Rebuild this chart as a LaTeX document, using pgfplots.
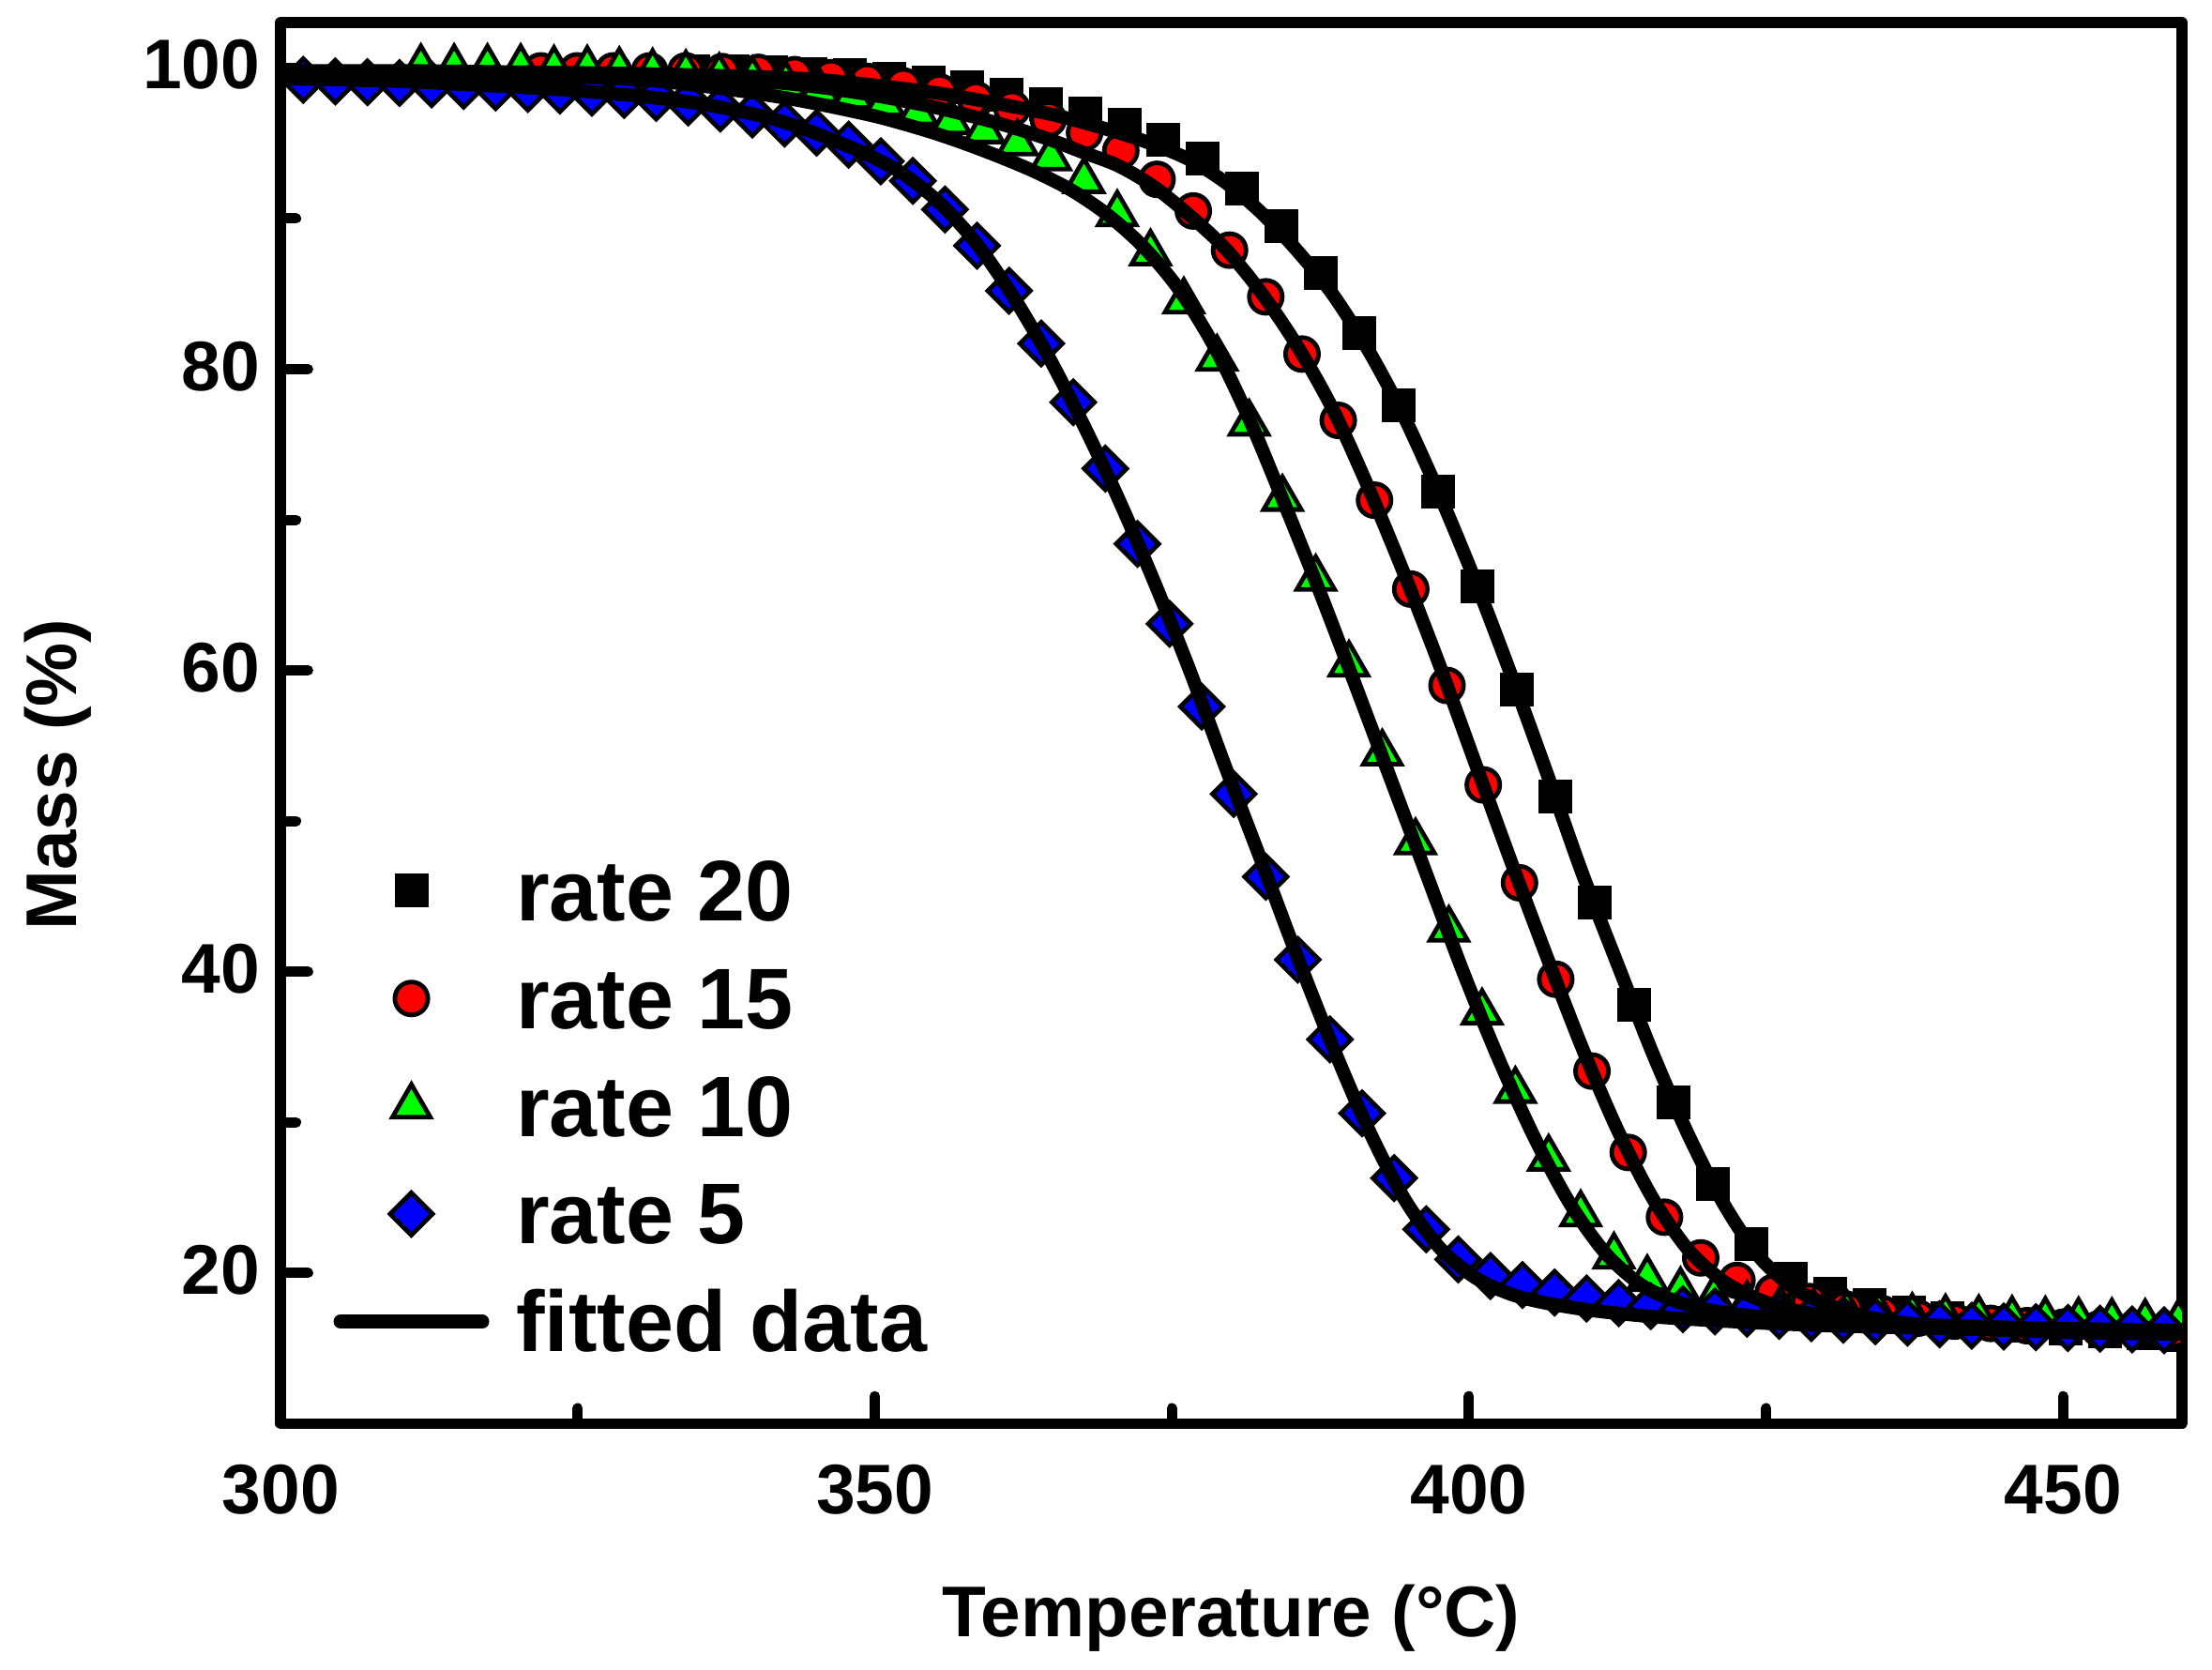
\documentclass[border=0pt]{standalone}
\usepackage{fontspec}
\setmainfont{Liberation Sans}
\usepackage{pgfplots}
\pgfplotsset{compat=1.18}
\begin{document}
\begin{tikzpicture}
\begin{axis}[
  scale only axis, width=506.7bp, height=373.3bp,
  xmin=300, xmax=460, ymin=10, ymax=103,
  xtick={300,350,400,450}, minor xtick={325,375,425},
  ytick={20,40,60,80,100}, minor ytick={30,50,70,90},
  tick align=inside, xtick pos=bottom, ytick pos=left,
  major tick length=7.3bp, minor tick length=4.1bp,
  tick style={line width=2.75bp, black, line cap=round},
  axis line style={line width=2.9bp, line join=round},
  /pgf/number format/assume math mode=true,
  tick label style={font=\bfseries\fontsize{18.8}{22}\selectfont},
  xticklabel style={yshift=-7.4bp},
  yticklabel style={xshift=-2bp, yshift=0.8bp},
  label style={font=\bfseries\fontsize{19.2}{23}\selectfont},
  xlabel={Temperature (°C)},
  ylabel={Mass (\%)},
  xlabel style={at={(axis description cs:0.5,-0.1524)}, anchor=base},
  ylabel style={at={(axis description cs:-0.1074,0.4633)}, anchor=base},
  clip marker paths=true,
  legend cell align=left,
  legend style={draw=none, fill=none, inner sep=0pt, outer sep=0pt,
     at={(axis description cs:0.0278,0.046)}, anchor=south west,
     font=\bfseries\fontsize{23}{27}\selectfont,
     row sep=8.7bp, column sep=5.2bp,
     nodes={inner sep=2bp, text height=16bp, text depth=0bp}},
  legend image code/.code={\draw[mark repeat=2,mark phase=2,#1] plot coordinates {(1.8bp,0bp)(20.75bp,0bp)(39.7bp,0bp)};},
]
% rate 20
\addplot[only marks, mark=square*, mark size=3.9bp, mark options={fill=black, draw=black, line width=1.2bp}] coordinates {
(334.7,99.8)(338.0,99.8)(341.3,99.7)(344.6,99.6)(347.9,99.5)(351.2,99.3)(354.5,99.0)(357.8,98.7)(361.1,98.2)(364.4,97.6)(367.7,97.0)(371.0,96.2)(374.3,95.2)(377.6,94.0)(380.9,92.0)(384.2,89.5)(387.5,86.4)(390.8,82.4)(394.1,77.6)(397.4,71.9)(400.7,65.6)(404.0,58.7)(407.3,51.6)(410.6,44.6)(413.9,37.8)(417.2,31.3)(420.5,25.9)(423.8,21.9)(427.1,19.6)(430.4,18.6)(433.7,17.9)(437.0,17.4)(440.3,17.0)(443.6,16.7)(446.9,16.5)(450.2,16.3)(453.5,16.1)(456.8,16.0)(459.9,15.9)
};
\addlegendentry{rate 20}
% rate 15
\addplot[only marks, mark=*, mark size=4.4bp, mark options={fill=red, draw=black, line width=1.2bp}] coordinates {
(321.9,99.8)(324.95,99.8)(328.0,99.8)(331.05,99.8)(334.1,99.8)(337.15,99.75)(340.2,99.7)(343.25,99.55)(346.3,99.35)(349.35,99.1)(352.4,98.8)(355.45,98.4)(358.5,97.9)(361.55,97.3)(364.6,96.6)(367.65,95.7)(370.7,94.5)(373.75,92.6)(376.8,90.5)(379.85,87.9)(382.9,84.8)(385.95,81.0)(389.0,76.6)(392.05,71.3)(395.1,65.4)(398.15,59.0)(401.2,52.4)(404.25,45.9)(407.3,39.5)(410.35,33.4)(413.4,28.0)(416.45,23.7)(419.5,21.0)(422.55,19.5)(425.6,18.7)(428.65,18.1)(431.7,17.6)(434.75,17.3)(437.8,17.0)(440.85,16.8)(443.9,16.65)(446.95,16.5)(450.0,16.4)(453.05,16.3)(456.1,16.25)(459.15,16.2)
};
\addlegendentry{rate 15}
% rate 10
\addplot[only marks, mark=triangle*, mark size=5.8bp, mark options={fill=green, draw=black, line width=1.2bp}] coordinates {
(311.8,100.0)(314.6,100.0)(317.4,100.0)(320.2,100.0)(323.0,99.9)(325.8,99.9)(328.5,99.8)(331.3,99.7)(334.1,99.6)(336.9,99.4)(339.7,99.2)(342.5,98.9)(345.3,98.5)(348.1,98.1)(350.8,97.6)(353.6,97.0)(356.4,96.4)(359.2,95.8)(362.0,95.0)(364.8,94.0)(367.6,92.5)(370.4,90.3)(373.2,87.7)(376.0,84.5)(378.8,80.7)(381.5,76.4)(384.3,71.4)(387.1,66.1)(389.9,60.4)(392.7,54.5)(395.5,48.6)(398.3,42.8)(401.1,37.3)(403.9,32.1)(406.7,27.6)(409.4,23.9)(412.2,21.1)(415.0,19.6)(417.8,18.8)(420.6,18.3)(423.4,17.9)(426.2,17.6)(429.0,17.4)(431.8,17.3)(434.5,17.2)(437.3,17.1)(440.1,17.0)(442.9,16.95)(445.7,16.9)(448.5,16.85)(451.3,16.8)(454.1,16.75)(456.9,16.7)(459.7,16.7)
};
\addlegendentry{rate 10}
% rate 5
\addplot[only marks, mark=square*, mark size=4.0bp, mark options={fill=blue, draw=black, line width=1.2bp, rotate=45}] coordinates {
(301.9,99.2)(304.6,99.1)(307.3,99.05)(310.0,99.0)(312.7,98.9)(315.4,98.8)(318.1,98.7)(320.8,98.6)(323.5,98.5)(326.2,98.35)(328.9,98.2)(331.6,98.0)(334.3,97.7)(337.0,97.3)(339.7,96.9)(342.4,96.3)(345.1,95.7)(347.8,94.9)(350.5,93.8)(353.2,92.5)(355.9,90.6)(358.6,88.2)(361.3,85.2)(364.0,81.7)(366.7,77.8)(369.4,73.4)(372.1,68.4)(374.8,63.1)(377.5,57.6)(380.2,51.8)(382.9,46.3)(385.6,40.8)(388.3,35.5)(391.0,30.6)(393.7,26.3)(396.4,22.9)(399.1,20.9)(401.8,19.8)(404.5,19.2)(407.2,18.7)(409.9,18.3)(412.6,18.0)(415.3,17.8)(418.0,17.6)(420.7,17.45)(423.4,17.3)(426.1,17.15)(428.8,17.0)(431.5,16.9)(434.2,16.8)(436.9,16.7)(439.6,16.6)(442.3,16.5)(445.0,16.45)(447.7,16.4)(450.4,16.35)(453.1,16.3)(455.8,16.25)(458.5,16.2)
};
\addlegendentry{rate 5}
% fitted curves
\addplot[black, line width=3.6bp, line cap=round, smooth, tension=0.5, no markers] coordinates {
(300,99.7)(320.5,99.7)(330.5,99.6)(340.5,99.4)(345.5,99.2)(350.5,98.8)(355.5,98.3)(360.5,97.6)(365.5,96.8)(370.5,95.7)(373.5,94.9)(376.5,93.9)(379.5,92.4)(382.5,90.4)(385.5,87.9)(388.5,85.0)(391.5,81.3)(394.5,76.9)(397.5,71.7)(400.5,66.0)(403.5,59.8)(406.5,53.3)(409.5,46.6)(412.5,40.5)(415.5,34.5)(418.5,29.1)(421.5,24.5)(424.5,21.0)(427.5,18.9)(430.5,17.8)(433.5,17.1)(436.5,16.7)(440.5,16.4)(445.5,16.2)(450.5,16.05)(455.5,15.98)(460,15.95)
};
\addlegendentry{fitted data}
\addplot[black, line width=3.6bp, smooth, tension=0.5, no markers, forget plot] coordinates {
(300,99.8)(310.5,99.8)(320.5,99.7)(330.5,99.5)(340.5,99.1)(345.5,98.7)(350.5,98.1)(355.5,97.3)(360.5,96.3)(364.5,95.3)(367.5,94.4)(370.5,93.5)(373.5,92.1)(376.5,90.2)(379.5,88.0)(382.5,85.1)(385.5,81.6)(388.5,77.4)(391.5,72.2)(394.5,66.5)(397.5,60.4)(400.5,53.9)(403.5,47.4)(406.5,41.1)(409.5,35.0)(412.5,29.5)(415.5,24.9)(418.5,21.5)(421.5,19.4)(424.5,18.2)(427.5,17.5)(430.5,17.1)(435.5,16.65)(440.5,16.4)(445.5,16.25)(450.5,16.15)(455.5,16.05)(460,16.0)
};
\addplot[black, line width=3.6bp, smooth, tension=0.5, no markers, forget plot] coordinates {
(300,99.6)(310.5,99.6)(320.5,99.5)(330.5,99.2)(337.5,98.6)(342.5,98.0)(346.5,97.4)(350.5,96.7)(354.5,95.8)(357.5,95.0)(360.5,94.1)(363.5,93.1)(366.5,91.9)(369.5,90.3)(372.5,88.2)(375.5,85.4)(378.5,81.6)(381.5,76.7)(384.5,71.0)(387.5,65.1)(390.5,58.9)(393.5,52.6)(396.5,46.3)(399.5,40.0)(402.5,34.2)(405.5,29.0)(408.5,24.6)(411.5,21.3)(414.5,19.2)(417.5,18.1)(420.5,17.5)(424.5,17.1)(430.5,16.8)(440.5,16.5)(450.5,16.3)(460,16.2)
};
\addplot[black, line width=3.6bp, smooth, tension=0.5, no markers, forget plot] coordinates {
(300,99.3)(305.5,99.2)(310.5,99.1)(315.5,98.9)(320.5,98.7)(325.5,98.45)(330.5,98.1)(335.5,97.6)(340.5,96.8)(343.5,96.1)(346.5,95.2)(349.5,94.2)(352.5,92.9)(355.5,91.0)(358.5,88.4)(361.5,85.0)(364.5,81.0)(367.5,76.4)(370.5,71.4)(373.5,65.9)(376.5,60.0)(379.5,53.6)(382.5,47.4)(385.5,41.1)(388.5,35.1)(391.5,29.6)(394.5,25.0)(397.5,21.7)(400.5,19.7)(403.5,18.6)(406.5,18.0)(410.5,17.5)(415.5,17.1)(420.5,16.85)(425.5,16.65)(430.5,16.5)(440.5,16.3)(450.5,16.1)(460,16.0)
};
\end{axis}
\pgfresetboundingbox
\path[use as bounding box] ([shift={(-74.8bp,-65.6bp)}]current axis.south west) rectangle ([shift={(8bp,6.05bp)}]current axis.north east);
\end{tikzpicture}
\end{document}
